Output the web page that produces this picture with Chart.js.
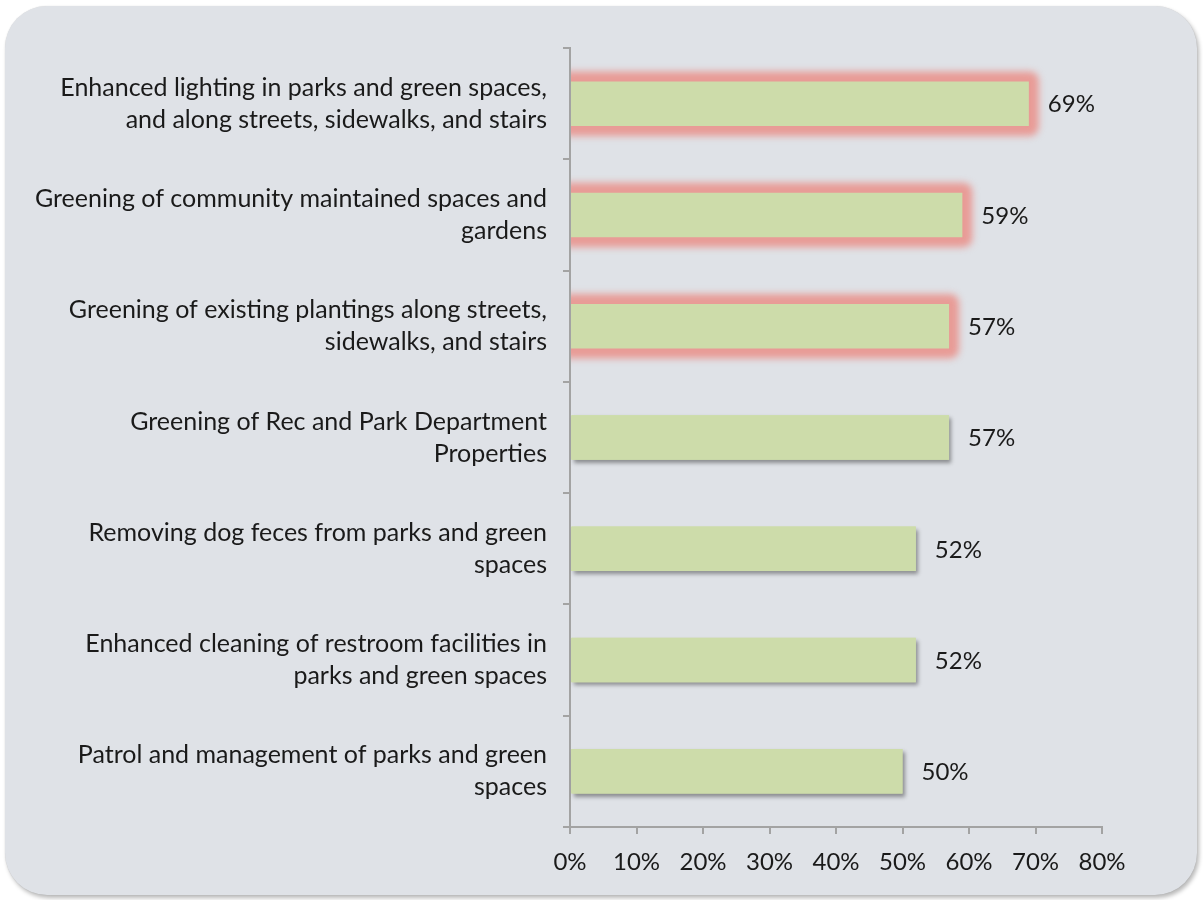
<!DOCTYPE html>
<html>
<head>
<meta charset="utf-8">
<script src="https://cdn.jsdelivr.net/npm/chart.js@4.4.1/dist/chart.umd.min.js"></script>
<style>
  html, body { margin: 0; padding: 0; background: #ffffff; }
  #wrap { position: relative; width: 1203px; height: 900px; overflow: hidden; }
  #panel {
    position: absolute; left: 5px; top: 6px; width: 1192px; height: 889px;
    background: #dfe2e7; border-radius: 42px;
    box-shadow: 2px 3px 4px rgba(0,0,0,0.28), 0 0 1px rgba(0,0,0,0.15);
  }
  #c { position: absolute; left: 0; top: 0; }
</style>
</head>
<body>
<div id="wrap">
  <div id="panel"></div>
  <canvas id="c" width="1203" height="900"></canvas>
</div>
<script>
// Survey results: share of respondents supporting each improvement
const categories = [
  ["Enhanced lighting in parks and green spaces,", "and along streets, sidewalks, and stairs"],
  ["Greening of community maintained spaces and", "gardens"],
  ["Greening of existing plantings along streets,", "sidewalks, and stairs"],
  ["Greening of Rec and Park Department", "Properties"],
  ["Removing dog feces from parks and green", "spaces"],
  ["Enhanced cleaning of restroom facilities in", "parks and green spaces"],
  ["Patrol and management of parks and green", "spaces"]
];
const values = [69, 59, 57, 57, 52, 52, 50];
// top priorities drawn with a red glow
const highlighted = [true, true, true, false, false, false, false];
const axisMin = 0, axisMax = 80, axisStep = 10;

const FONT = "Lato, 'Open Sans', sans-serif";
const FONT_SIZE = 25;
const TEXT = "#1a1a1a";
const AXIS = "#a3a3a3";

// Drop shadows under the bars, red glow behind the highlighted ones
const barEffects = {
  id: 'barEffects',
  beforeDatasetDraw(chart, args) {
    const meta = args.meta;
    const ctx = chart.ctx;
    const area = chart.chartArea;
    meta.data.forEach((bar, i) => {
      const p = bar.getProps(['x', 'y', 'base', 'height'], true);
      const top = p.y - p.height / 2;
      const w = p.x - p.base;
      ctx.save();
      if (highlighted[i]) {
        ctx.beginPath();
        ctx.rect(area.left + 1, area.top - 20, area.right - area.left + 40, area.bottom - area.top + 40);
        ctx.clip();
        ctx.filter = 'blur(3.5px)';
        ctx.fillStyle = '#e89b96';
        ctx.beginPath();
        ctx.roundRect(p.base - 12, top - 10, w + 22, p.height + 20, 9);
        ctx.fill();
      } else {
        ctx.shadowColor = 'rgba(0,0,0,0.38)';
        ctx.shadowBlur = 4;
        ctx.shadowOffsetX = 2;
        ctx.shadowOffsetY = 3;
        ctx.fillStyle = '#cddcaa';
        ctx.fillRect(p.base + 1, top, w - 1, p.height);
      }
      ctx.restore();
    });
  }
};

// Percent labels to the right of each bar
const valueLabels = {
  id: 'valueLabels',
  afterDatasetsDraw(chart) {
    const ctx = chart.ctx;
    const meta = chart.getDatasetMeta(0);
    ctx.save();
    ctx.font = `${FONT_SIZE - 1}px ${FONT}`;
    ctx.fillStyle = TEXT;
    ctx.textAlign = 'left';
    ctx.textBaseline = 'middle';
    meta.data.forEach((bar, i) => {
      ctx.fillText(values[i] + '%', bar.x + 19, bar.y + 1);
    });
    ctx.restore();
  }
};

new Chart(document.getElementById('c'), {
  type: 'bar',
  data: {
    labels: categories,
    datasets: [{
      data: values,
      backgroundColor: '#cddcaa',
      borderWidth: 0,
      barPercentage: 0.4,
      categoryPercentage: 1.0
    }]
  },
  options: {
    indexAxis: 'y',
    responsive: false,
    animation: false,
    events: [],
    layout: { padding: { top: 45, right: 101, bottom: 0, left: 0 } },
    plugins: { legend: { display: false }, tooltip: { enabled: false } },
    scales: {
      x: {
        min: axisMin, max: axisMax,
        ticks: {
          stepSize: axisStep,
          callback: v => v + '%',
          color: TEXT,
          font: { family: FONT, size: FONT_SIZE - 1 },
          padding: 14
        },
        grid: { drawOnChartArea: false, drawTicks: true, tickLength: 7, color: AXIS, lineWidth: 2 },
        border: { color: AXIS, width: 2 },
        afterFit(scale) { scale.height = 73; }
      },
      y: {
        ticks: {
          color: TEXT,
          font: { family: FONT, size: FONT_SIZE, lineHeight: 1.28 },
          padding: 16
        },
        grid: { drawOnChartArea: false, drawTicks: true, tickLength: 7, color: AXIS, lineWidth: 2, offset: true },
        border: { color: AXIS, width: 2 },
        afterFit(scale) { scale.width = 570; }
      }
    }
  },
  plugins: [barEffects, valueLabels]
});
</script>
</body>
</html>
